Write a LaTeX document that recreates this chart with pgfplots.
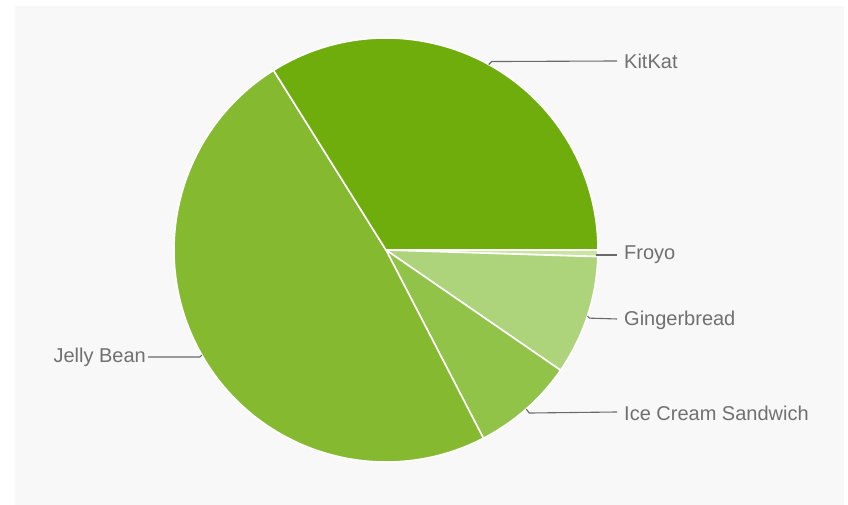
\documentclass[border=0pt]{standalone}
\usepackage{pgfplots}
\usepackage{pgfplotstable}
\pgfplotsset{compat=1.18}
\usepackage{fontspec}
\setmainfont{Liberation Sans}
\definecolor{bg}{HTML}{F8F8F8}
\definecolor{c0}{HTML}{CBE4A6}
\definecolor{c1}{HTML}{ADD47B}
\definecolor{c2}{HTML}{92C349}
\definecolor{c3}{HTML}{84B930}
\definecolor{c4}{HTML}{6EAD0C}
\definecolor{txt}{HTML}{707070}
\definecolor{ldr}{HTML}{6A6A6A}

\pgfplotstableread{
name value
Froyo 0.5
Gingerbread 9.1
IceCreamSandwich 7.8
JellyBean 48.7
KitKat 33.9
}\piedata

\def\cum{0}
\pgfplotsforeachungrouped \i in {0,...,4}{%
  \pgfplotstablegetelem{\i}{value}\of\piedata
  \let\v\pgfplotsretval
  \pgfmathsetmacro\a{-3.6*\cum}%
  \pgfmathsetmacro\cumnew{\cum+\v}%
  \pgfmathsetmacro\b{-3.6*\cumnew}%
  \pgfmathsetmacro\m{(\a+\b)/2}%
  \expandafter\xdef\csname sa\i\endcsname{\a}%
  \expandafter\xdef\csname sb\i\endcsname{\b}%
  \expandafter\xdef\csname sm\i\endcsname{\m}%
  \xdef\cum{\cumnew}%
}

\begin{document}
\begin{tikzpicture}
\begin{axis}[
  width=848pt, height=505pt, scale only axis,
  xmin=0, xmax=848, ymin=0, ymax=505,
  hide axis, clip=false,
]
\path (axis cs:0,0) rectangle (axis cs:848,505);
\fill[bg] (axis cs:15,0) rectangle (axis cs:844,499);
\pgfplotsinvokeforeach{0,...,4}{%
  \fill[c#1, draw=white, line width=1.6pt, line join=round]
    (axis cs:386,255) -- ++(\csname sa#1\endcsname:212pt)
    arc[start angle=\csname sa#1\endcsname, end angle=\csname sb#1\endcsname, radius=212pt] -- cycle;
}
% leader lines
\draw[ldr, line width=1.1pt] (axis cs:386,255) ++(\csname sm4\endcsname:212pt) -- ++(3pt,3pt) -- (axis cs:617,444);
\draw[ldr, line width=1.1pt] (axis cs:596,250) -- (axis cs:617,250);
\draw[ldr, line width=1.1pt] (axis cs:386,255) ++(\csname sm1\endcsname:212pt) -- ++(2pt,-2pt) -- (axis cs:617,186);
\draw[ldr, line width=1.1pt] (axis cs:386,255) ++(\csname sm2\endcsname:212pt) -- ++(3pt,-4pt) -- (axis cs:617,93);
\draw[ldr, line width=1.1pt] (axis cs:386,255) ++(\csname sm3\endcsname:212pt) -- ++(-2pt,-2pt) -- (axis cs:148,148);
% labels
\node[anchor=west, inner sep=0pt, text=txt, font=\fontsize{20}{24}\selectfont] at (axis cs:624,444) {KitKat};
\node[anchor=west, inner sep=0pt, text=txt, font=\fontsize{20}{24}\selectfont] at (axis cs:624,250) {Froyo};
\node[anchor=west, inner sep=0pt, text=txt, font=\fontsize{20}{24}\selectfont] at (axis cs:624,185) {Gingerbread};
\node[anchor=west, inner sep=0pt, text=txt, font=\fontsize{20}{24}\selectfont] at (axis cs:624,92) {Ice Cream Sandwich};
\node[anchor=east, inner sep=0pt, text=txt, font=\fontsize{20}{24}\selectfont] at (axis cs:146,148) {Jelly Bean};
\end{axis}
\end{tikzpicture}
\end{document}
